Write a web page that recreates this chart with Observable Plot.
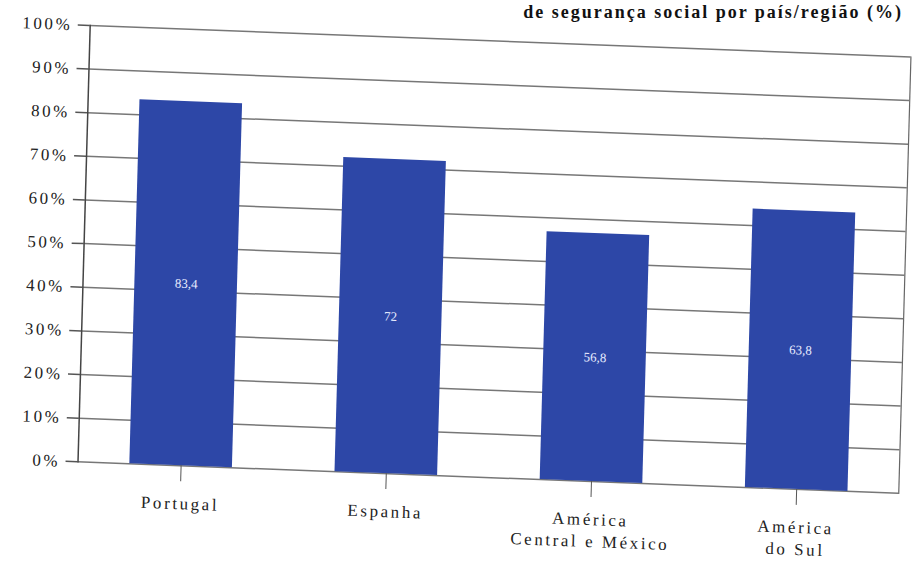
<!DOCTYPE html>
<html>
<head>
<meta charset="utf-8">
<script src="https://cdn.jsdelivr.net/npm/d3@7"></script>
<script src="https://cdn.jsdelivr.net/npm/@observablehq/plot@0.6"></script>
<style>
  html, body { margin: 0; padding: 0; background: #fff; overflow: hidden; }
  body { width: 915px; height: 562px; position: relative; }
  #title {
    position: absolute; right: 12px; top: 2px;
    font-family: "Liberation Serif", serif; font-weight: bold; font-size: 18px;
    line-height: 20px; letter-spacing: 2px; color: #111; white-space: nowrap;
  }
  #chart {
    position: absolute; left: 0; top: 0;
    transform-origin: 90px 25px;
    transform: rotate(1.6deg) skewY(0.6deg);
  }
  /* wide spacing on the axis labels only */
  #chart g[aria-label="x-axis tick label"] text,
  #chart g[aria-label="y-axis tick label"] text { letter-spacing: 2.6px; }
</style>
</head>
<body>
<div id="title">de segurança social por país/região (%)</div>
<div id="chart"></div>
<script>
// Categories, values and axis ticks
const categories = ["Portugal", "Espanha", "América\nCentral e México", "América\ndo Sul"];
const values = [83.4, 72, 56.8, 63.8];
const yTicks = [0, 10, 20, 30, 40, 50, 60, 70, 80, 90, 100];

const data = categories.map((c, i) => ({category: c, value: values[i]}));
const fmtValue = v => String(v).replace(".", ",");

const chart = Plot.plot({
  width: 918,
  height: 562,
  marginTop: 25,
  marginBottom: 99,
  marginLeft: 90,
  marginRight: 4,
  style: {
    fontFamily: "Liberation Serif, serif",
    fontSize: "17px",
    color: "#222",
    background: "transparent",
    overflow: "visible"
  },
  x: {domain: categories, paddingInner: 0.5, paddingOuter: 0.25, label: null},
  y: {domain: [0, 100], label: null},
  marks: [
    Plot.gridY(yTicks, {stroke: "#555", strokeOpacity: 0.8, strokeWidth: 1.5}),
    Plot.barY(data, {x: "category", y: "value", fill: "#2d47a7"}),
    Plot.text(data, {
      x: "category",
      y: d => d.value / 2,
      text: d => fmtValue(d.value),
      fill: "#e8ecff",
      fontSize: 13
    }),
    Plot.axisY(yTicks, {
      tickSize: 12,
      tickPadding: 6,
      tickFormat: d => d + "%",
      stroke: "#555",
      strokeWidth: 1.5,
      fill: "#222"
    }),
    Plot.axisX({tickSize: 16, tickPadding: 12, lineHeight: 1.3, stroke: "#555", fill: "#222"}),
    Plot.frame({anchor: "left", stroke: "#444", strokeWidth: 1.5}),
    Plot.frame({anchor: "right", stroke: "#666", strokeWidth: 1.2})
  ]
});

document.getElementById("chart").appendChild(chart);
</script>
</body>
</html>
